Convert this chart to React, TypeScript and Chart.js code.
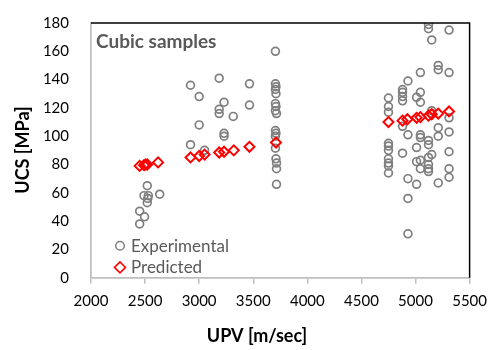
import React, { useEffect, useRef } from "react";
import { Chart, registerables } from "chart.js";
import { drawPoint } from "chart.js/helpers";

Chart.register(...registerables);

const CHART_TITLE = "Cubic samples";
const X_TITLE = "UPV [m/sec]";
const Y_TITLE = "UCS [MPa]";
const SERIES_NAMES = ["Experimental", "Predicted"];

// Experimental UPV (m/sec)
const expX = [
  2450, 2450, 2495, 2490, 2530, 2520, 2520, 2525, 2635,
  2920, 2920, 3000, 3000, 3050, 3185, 3185, 3185, 3230, 3230, 3230, 3315, 3465, 3465,
  3705, 3705, 3710, 3705, 3710, 3705, 3710, 3705, 3715, 3705, 3710, 3705, 3705, 3710, 3715, 3715, 3715,
  4750, 4750, 4750, 4750, 4750, 4750, 4750, 4750, 4750, 4750,
  4880, 4880, 4880, 4880, 4880, 4880,
  4930, 4930, 4930, 4930, 4930,
  5010, 5010, 5010, 5010,
  5045, 5045, 5045, 5045, 5045, 5045, 5045,
  5120, 5120, 5120, 5120, 5120, 5120, 5120, 5120,
  5150, 5150, 5150, 5150,
  5210, 5210, 5210, 5210, 5210,
  5310, 5310, 5310, 5310, 5310, 5310, 5310,
];
// Experimental UCS (MPa)
const expY = [
  38, 47, 43, 58, 58, 65, 53, 56, 59,
  136, 94, 128, 108, 90, 141, 119, 116, 124, 102, 100, 114, 137, 122,
  160, 137, 135, 133, 130, 123, 121, 118, 116, 104, 102, 100, 91.5, 84, 81, 77, 66,
  127, 121, 117, 95, 93, 90, 84, 81, 79, 74,
  133, 131, 128, 125, 107, 88,
  139, 101, 70, 56, 31,
  127.5, 92, 82, 66,
  145, 131, 124, 101, 99, 83, 77,
  179, 176, 97, 94, 85, 80, 77, 75,
  168, 118, 116, 87,
  150, 147, 106, 100, 67,
  175, 145, 113, 103, 89, 77, 71,
];

// Predicted UPV (m/sec) and UCS (MPa)
const predX = [2450, 2490, 2505, 2520, 2620, 2920, 3000, 3050, 3185, 3230, 3320, 3465, 3710, 4750, 4880, 4925, 5010, 5045, 5120, 5150, 5210, 5310];
const predY = [79, 79.5, 80, 80, 81.5, 85, 86, 87, 88.5, 89, 90, 92.5, 95.5, 110, 111, 112, 113, 113.5, 114.5, 115.5, 116, 117.5];

const X_MIN = 2000, X_MAX = 5500, X_STEP = 500;
const Y_MIN = 0, Y_MAX = 180, Y_STEP = 20;

const FONT = "Lato, 'Noto Sans', sans-serif";
const GREY = "#7f7f7f";
const RED = "#ff0000";
const AXIS = "#bfbfbf";

const overlayPlugin = {
  id: "overlay",
  afterDraw(chart: any) {
    const { ctx, chartArea: a } = chart;
    ctx.save();
    // top / right frame
    ctx.strokeStyle = "#000";
    ctx.lineWidth = 1.5;
    ctx.beginPath();
    ctx.moveTo(a.left, a.top);
    ctx.lineTo(a.right, a.top);
    ctx.lineTo(a.right, a.bottom);
    ctx.stroke();

    // in-plot title
    ctx.fillStyle = "#595959";
    ctx.font = `bold 19px ${FONT}`;
    ctx.textAlign = "left";
    ctx.textBaseline = "alphabetic";
    ctx.fillText(CHART_TITLE, a.left + 5, a.top + 24.5);

    // legend
    chart.data.datasets.forEach((ds: any, i: number) => {
      const cx = a.left + 29;
      const cy = a.bottom - 32 + i * 21.7;
      ctx.strokeStyle = ds.borderColor;
      ctx.fillStyle = "rgba(0,0,0,0)";
      drawPoint(ctx, { pointStyle: ds.pointStyle, radius: ds.legendRadius, borderWidth: ds.borderWidth, rotation: 0 }, cx, cy);
      ctx.fillStyle = "#595959";
      ctx.font = `17px ${FONT}`;
      ctx.textAlign = "left";
      ctx.textBaseline = "middle";
      ctx.fillText(ds.label, cx + 11, cy + 0.5);
    });

    // axis titles
    ctx.fillStyle = "#000";
    ctx.font = `bold 18px ${FONT}`;
    ctx.textAlign = "center";
    ctx.textBaseline = "alphabetic";
    ctx.fillText(X_TITLE, 257, 342);
    ctx.translate(29, 150);
    ctx.rotate(-Math.PI / 2);
    ctx.fillText(Y_TITLE, 0, 0);
    ctx.restore();
  },
};

export default function App() {
  const ref = useRef<HTMLCanvasElement | null>(null);
  useEffect(() => {
    if (!ref.current) return;
    const chart = new Chart(ref.current, {
      type: "scatter",
      data: {
        datasets: [
          {
            label: SERIES_NAMES[0],
            data: expX.map((x, i) => ({ x, y: expY[i] })),
            pointStyle: "circle",
            pointRadius: 3.9,
            borderWidth: 1.7,
            borderColor: GREY,
            backgroundColor: "rgba(0,0,0,0)",
            order: 1,
            legendRadius: 4.3,
          } as any,
          {
            label: SERIES_NAMES[1],
            data: predX.map((x, i) => ({ x, y: predY[i] })),
            pointStyle: "rectRot",
            pointRadius: 5,
            borderWidth: 2,
            borderColor: RED,
            backgroundColor: "rgba(0,0,0,0)",
            order: 0,
            legendRadius: 5.5,
          } as any,
        ],
      },
      options: {
        responsive: false,
        animation: false,
        layout: { padding: { top: 16.5, right: 18, left: 0, bottom: 0 } },
        plugins: { legend: { display: false }, title: { display: false }, tooltip: { enabled: false } },
        scales: {
          x: {
            type: "linear",
            min: X_MIN,
            max: X_MAX,
            afterFit: (s: any) => { s.height = 72.3; },
            ticks: { stepSize: X_STEP, color: "#000", font: { family: FONT, size: 15 }, padding: 8, maxRotation: 0, callback: (v: any) => String(v) },
            grid: { display: true, drawOnChartArea: false, drawTicks: true, tickLength: 6, color: AXIS, lineWidth: 1.5 },
            border: { display: true, color: AXIS, width: 1.8 },
          },
          y: {
            type: "linear",
            min: Y_MIN,
            max: Y_MAX,
            afterFit: (s: any) => { s.width = 91; },
            ticks: { stepSize: Y_STEP, color: "#000", font: { family: FONT, size: 15 }, padding: 14, callback: (v: any) => String(v) },
            grid: { display: false },
            border: { display: true, color: AXIS, width: 1.8 },
          },
        },
      },
      plugins: [overlayPlugin],
    });
    return () => chart.destroy();
  }, []);
  return (
    <div style={{ position: "fixed", left: 0, top: 0, width: 495, height: 350, background: "#fff" }}>
      <canvas ref={ref} width={495} height={350} />
    </div>
  );
}
